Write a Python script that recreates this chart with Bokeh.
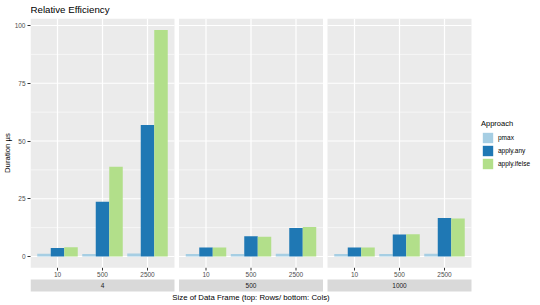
from bokeh.plotting import figure
from bokeh.models import ColumnDataSource, Range1d, FixedTicker, Legend, LegendItem, Title
from bokeh.core.properties import value
from bokeh.embed import file_html
from bokeh.resources import INLINE

# ---------------- data ----------------
col_groups = ["4", "500", "1000"]          # facet (bottom strip: Cols)
row_sizes = ["10", "500", "2500"]          # x categories (top: Rows)
approaches = ["pmax", "apply.any", "apply.ifelse"]
# values ordered: facet "4" (10, 500, 2500), facet "500" (...), facet "1000" (...)
pmax_us = [1.2, 1.1, 1.3, 1.1, 1.1, 1.2, 1.1, 1.1, 1.2]
apply_any_us = [3.7, 23.7, 56.9, 3.9, 8.8, 12.3, 3.9, 9.5, 16.7]
apply_ifelse_us = [4.0, 38.8, 98.0, 3.9, 8.6, 12.8, 3.9, 9.6, 16.4]
y_ticks = [0, 25, 50, 75, 100]
y_minor = [12.5, 37.5, 62.5, 87.5]
colors = ["#A6CEE3", "#1F78B4", "#B2DF8A"]

# ---------------- layout constants ----------------
FONT = "Liberation Sans"
W, H = 540, 305
LEFT = 30
PX_X = 45.0                     # pixels per category unit
PX_Y = 2.31                     # pixels per y unit
ZERO_PX = 256                   # pixel row of y = 0
EXPAND = 0.6
BAR_W = 0.3
GAP = 0.1

n_cat = len(row_sizes)
panel_w = n_cat - 1 + 2 * EXPAND
panel_left = [i * (panel_w + GAP) for i in range(len(col_groups))]
panel_right = [l + panel_w for l in panel_left]
panels_end = panel_right[-1]

series = [pmax_us, apply_any_us, apply_ifelse_us]
ymax = max(max(s) for s in series)
y_lo, y_hi = -0.05 * ymax, 1.05 * ymax

def px(d):
    return d / PX_Y

def ypx(row):          # data y for a pixel row (from the canvas top)
    return (ZERO_PX - row) / PX_Y

p = figure(width=W, height=H,
           x_range=Range1d(0, (W - LEFT) / PX_X), y_range=Range1d(ypx(H), ypx(0)),
           output_backend="svg", toolbar_location=None, title=None,
           x_axis_location=None,
           min_border_left=LEFT, min_border_right=0, min_border_top=0,
           min_border_bottom=0, background_fill_color="white",
           border_fill_color="white", outline_line_color=None)
p.xgrid.visible = False
p.ygrid.visible = False

# panel backgrounds
p.quad(left=panel_left, right=panel_right, bottom=[y_lo] * 3, top=[y_hi] * 3,
       fill_color="#EBEBEB", line_color=None)

# grid lines
mx0, mx1, my = [], [], []
for l, r in zip(panel_left, panel_right):
    for v in y_minor:
        mx0.append(l); mx1.append(r); my.append(v)
p.segment(x0=mx0, x1=mx1, y0=my, y1=my, line_color="white", line_width=0.6)
gx0, gx1, gy = [], [], []
for l, r in zip(panel_left, panel_right):
    for v in y_ticks:
        gx0.append(l); gx1.append(r); gy.append(v)
p.segment(x0=gx0, x1=gx1, y0=gy, y1=gy, line_color="white", line_width=1.2)

cat_x = []
for l in panel_left:
    for c in range(n_cat):
        cat_x.append(l + EXPAND + c)
p.segment(x0=cat_x, x1=cat_x, y0=[y_lo] * len(cat_x), y1=[y_hi] * len(cat_x),
          line_color="white", line_width=1.2)

# bars
renderers = []
for j, (name, vals, col) in enumerate(zip(approaches, series, colors)):
    src = ColumnDataSource(dict(x=[cx + (j - 1) * BAR_W for cx in cat_x], top=vals))
    r = p.vbar(x="x", top="top", bottom=0, width=BAR_W, source=src,
               fill_color=col, line_color=None)
    renderers.append(r)

# x ticks & labels
p.segment(x0=cat_x, x1=cat_x, y0=[y_lo] * len(cat_x), y1=[y_lo - px(2.7)] * len(cat_x),
          line_color="#333333", line_width=1)
p.text(x=cat_x, y=[y_lo - px(6.2)] * len(cat_x), text=row_sizes * len(col_groups),
       text_font=value(FONT), text_font_size="6.5px", text_color="#4D4D4D",
       text_align="center", text_baseline="middle")

# strips
strip_top = y_lo - px(11.7)
strip_bot = y_lo - px(23.7)
p.quad(left=panel_left, right=panel_right, bottom=[strip_bot] * 3, top=[strip_top] * 3,
       fill_color="#D9D9D9", line_color=None)
p.text(x=[(l + r) / 2 for l, r in zip(panel_left, panel_right)],
       y=[(strip_top + strip_bot) / 2] * 3, text=col_groups,
       text_font=value(FONT), text_font_size="6.5px", text_color="#1A1A1A",
       text_align="center", text_baseline="middle")

# chart title and x-axis title
p.text(x=[0], y=[ypx(9)], text=["Relative Efficiency"],
       text_font=value(FONT), text_font_size="9.7px", text_color="black",
       text_align="left", text_baseline="middle")
p.text(x=[panels_end / 2], y=[ypx(297)], text=["Size of Data Frame (top: Rows/ bottom: Cols)"],
       text_font=value(FONT), text_font_size="7.8px", text_color="black",
       text_align="center", text_baseline="middle")

# y axis
ya = p.yaxis[0]
ya.ticker = FixedTicker(ticks=y_ticks)
ya.axis_line_color = None
ya.major_tick_in = 0
ya.major_tick_out = 3
ya.major_tick_line_color = "#333333"
ya.minor_tick_line_color = None
ya.major_label_standoff = 2
ya.major_label_text_font = FONT
ya.major_label_text_font_size = "6.5px"
ya.major_label_text_color = "#4D4D4D"
ya.axis_label = None

# y-axis title, shifted up to the middle of the panels
p.add_layout(Title(text="Duration µs", align="center", offset=9.5, standoff=0,
                   text_font=FONT, text_font_size="7.8px", text_font_style="normal",
                   text_color="black"), "left")

# legend
legend = Legend(items=[LegendItem(label=n, renderers=[r]) for n, r in zip(approaches, renderers)],
                title="Approach", location=(451, 135), orientation="vertical",
                margin=0, padding=3, spacing=0, glyph_width=13, glyph_height=13,
                label_standoff=4, label_height=13, title_standoff=3,
                border_line_color=None, background_fill_alpha=0,
                title_text_font=FONT, title_text_font_size="7.5px",
                title_text_font_style="normal", title_text_color="black",
                label_text_font=FONT, label_text_font_size="6.5px", label_text_color="black")
p.add_layout(legend)

open("out.html", "w").write(file_html(p, INLINE))
